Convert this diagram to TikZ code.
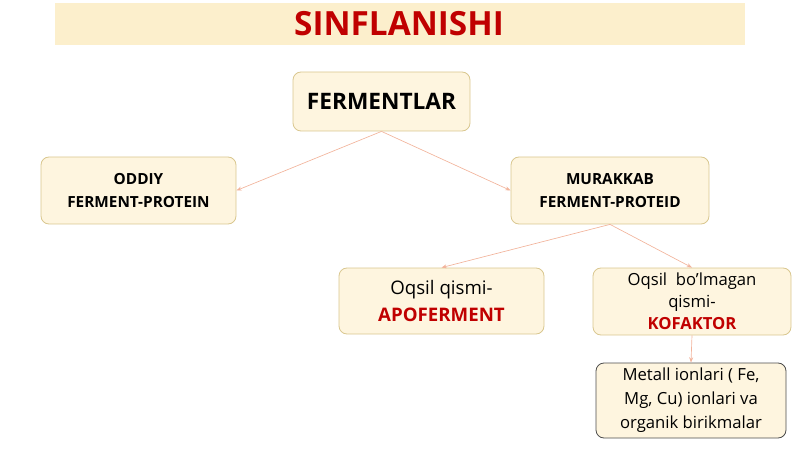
\documentclass[tikz,border=0pt]{standalone}
\usepackage{fontspec}
\setmainfont{Open Sans}
\usetikzlibrary{arrows.meta}
\definecolor{boxfill}{HTML}{FEF5DF}
\definecolor{boxline}{HTML}{D9C78F}
\definecolor{banner}{HTML}{FCEFCC}
\definecolor{redt}{HTML}{C00000}
\definecolor{arr}{HTML}{F2B49C}
\tikzset{
  bx/.style={draw=boxline,fill=boxfill,rounded corners=6pt,line width=0.6pt,align=center,inner sep=0pt},
  con/.style={draw=arr,line width=0.5pt,-{Stealth[length=4pt,width=3pt]}}
}
\begin{document}
\begin{tikzpicture}[x=0.75pt,y=-0.75pt]
\useasboundingbox (0,0) rectangle (800,449);
\fill[banner] (55,3) rectangle (745,45);
\node[font=\fontsize{25}{30}\selectfont\bfseries,text=redt] (title) at (399,24) {SINFLANISHI};
\node[bx,minimum width=132.75pt,minimum height=44.25pt,font=\fontsize{17}{20}\selectfont\bfseries] (f) at (381.5,101.5) {FERMENTLAR};
\node[bx,minimum width=146.25pt,minimum height=50.25pt,font=\fontsize{11.5}{17}\selectfont\bfseries] (o) at (138.5,190.5) {ODDIY\\FERMENT-PROTEIN};
\node[bx,minimum width=148.5pt,minimum height=50.25pt,font=\fontsize{11.5}{17}\selectfont\bfseries] (m) at (610,190.5) {MURAKKAB\\FERMENT-PROTEID};
\node[bx,minimum width=153.75pt,minimum height=49.5pt,font=\fontsize{14}{20}\selectfont] (a) at (441.5,301) {Oqsil qismi-\\\textcolor{redt}{\bfseries APOFERMENT}};
\node[bx,minimum width=148.5pt,minimum height=50.25pt,font=\fontsize{12.5}{16.5}\selectfont] (k) at (692,301.5) {Oqsil\ \ bo’lmagan\\qismi-\\\textcolor{redt}{\bfseries KOFAKTOR}};
\node[bx,draw=black!70,minimum width=142.5pt,minimum height=56.25pt,font=\fontsize{12.5}{18}\selectfont] (mt) at (691,400.5) {Metall ionlari ( Fe,\\Mg, Cu) ionlari va\\organik birikmalar};
\draw[con] (f.south) -- (o.east);
\draw[con] (f.south) -- (m.west);
\draw[con] (m.south) -- (a.north);
\draw[con] (m.south) -- (k.north);
\draw[con] (k.south) -- (mt.north);
\end{tikzpicture}
\end{document}
